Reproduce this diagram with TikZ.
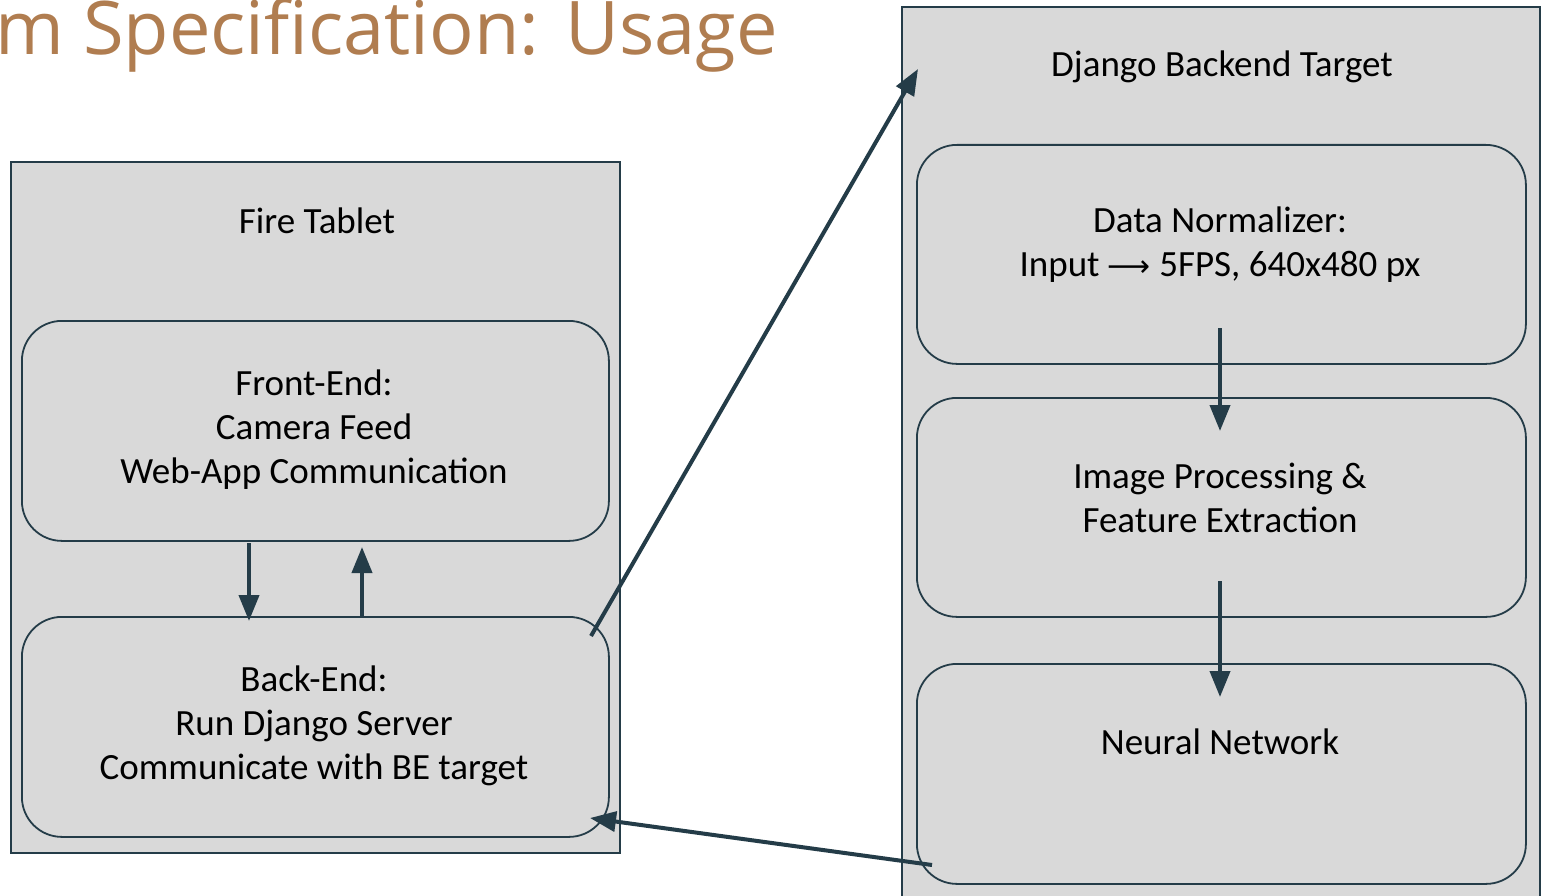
\documentclass[tikz,border=0pt]{standalone}
\usepackage{fontspec}
\setmainfont{Carlito}
\newfontfamily\titlefont{Open Sans}
\newfontfamily\symfont{DejaVu Sans}
\usetikzlibrary{arrows.meta,calc}
\definecolor{boxfill}{HTML}{D9D9D9}
\definecolor{edge}{HTML}{243C48}
\definecolor{titlecol}{HTML}{B07D50}
\tikzset{
  outerbox/.style={draw=edge, line width=1.6pt, fill=boxfill, rectangle, inner sep=0pt},
  innerbox/.style={draw=edge, line width=1.8pt, fill=boxfill, rectangle, rounded corners=40pt, inner sep=0pt},
  lbl/.style={font=\fontsize{37}{44}\selectfont, align=center, text=black, inner sep=0pt},
  flow/.style={draw=edge, line width=4pt, -{Triangle[length=26pt,width=20pt]}}
}
\begin{document}
\begin{tikzpicture}[x=1pt,y=-1pt]
\useasboundingbox (0,0) rectangle (1544,896);
\clip (0,0) rectangle (1544,896);
\fill[white] (0,0) rectangle (1544,896);
% title
\node[anchor=base west, inner sep=0pt, text=titlecol, font=\titlefont\fontsize{74}{88}\selectfont] (title) at (-5,55) {m Specification: Usage};
% Fire tablet
\node[outerbox, minimum width=609pt, minimum height=691pt, anchor=north west] (tablet) at (10,161) {};
\node[lbl] (tablettxt) at (317,221) {Fire Tablet};
\node[innerbox, minimum width=587pt, minimum height=220pt, anchor=north west] (fe) at (21,320) {};
\node[lbl] (fetxt) at (314,430) {Front-End:\\Camera Feed\\Web-App Communication};
\node[innerbox, minimum width=587pt, minimum height=220pt, anchor=north west] (be) at (21,616) {};
\node[lbl] (betxt) at (314,726) {Back-End:\\Run Django Server\\Communicate with BE target};
% Django
\node[outerbox, minimum width=638pt, minimum height=920pt, anchor=north west] (django) at (901,6) {};
\node[lbl] (djtxt) at (1222,67) {Django Backend Target};
\node[innerbox, minimum width=609pt, minimum height=219pt, anchor=north west] (dn) at (916,144) {};
\node[lbl] (dntxt) at (1220,245) {Data Normalizer:\\Input {\symfont\fontsize{30}{44}\selectfont ⟶} 5FPS, 640x480 px};
\node[innerbox, minimum width=609pt, minimum height=219pt, anchor=north west] (ip) at (916,397) {};
\node[lbl] (iptxt) at (1220,498) {Image Processing \&\\Feature Extraction};
\node[innerbox, minimum width=609pt, minimum height=220pt, anchor=north west] (nn) at (916,663) {};
\node[lbl] (nntxt) at (1220,742) {Neural Network};
% connector endpoints
\coordinate (feA) at (249,543);
\coordinate (beA) at (249,621);
\coordinate (beB) at (362,616);
\coordinate (feB) at (362,547);
\coordinate (beOut) at (591,636);
\coordinate (djIn) at (918,69);
\coordinate (dnOut) at (1220,328);
\coordinate (ipIn) at (1220,431);
\coordinate (ipOut) at (1220,581);
\coordinate (nnIn) at (1220,697);
\coordinate (nnOut) at (932,865);
\coordinate (beIn) at (590,818);
\draw[flow] (feA) -- (beA);
\draw[flow] (beB) -- (feB);
\draw[flow] (beOut) -- (djIn);
\draw[flow] (dnOut) -- (ipIn);
\draw[flow] (ipOut) -- (nnIn);
\draw[flow] (nnOut) -- (beIn);
\end{tikzpicture}
\end{document}
